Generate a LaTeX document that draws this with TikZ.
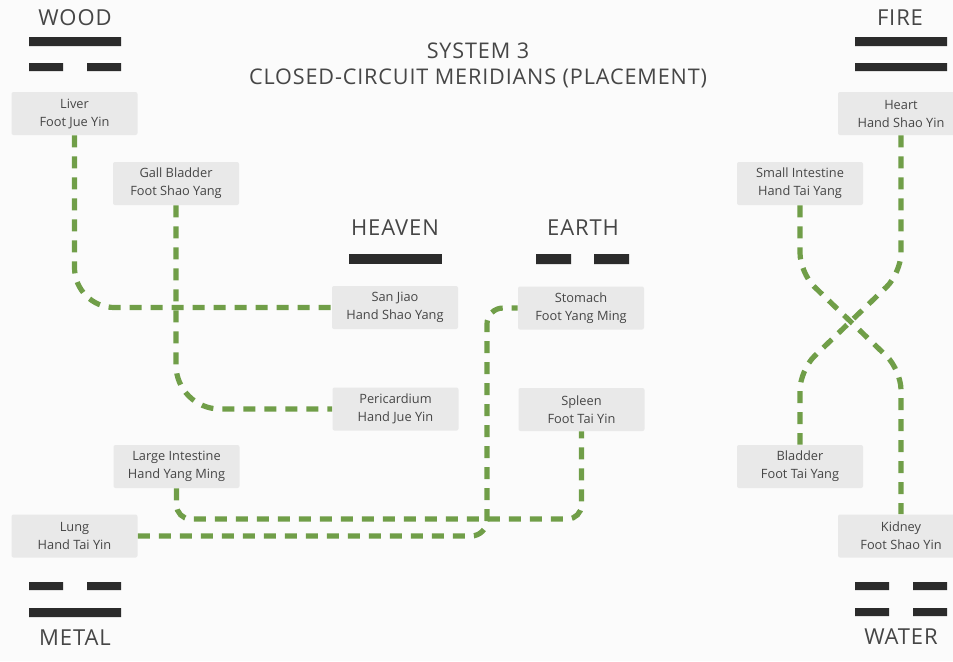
\documentclass[tikz,border=0pt]{standalone}
\usepackage{fontspec}
\setmainfont{Open Sans}
\definecolor{meridiangreen}{RGB}{112,158,72}
\definecolor{boxgray}{RGB}{233,233,233}
\definecolor{bardark}{RGB}{43,43,43}
\definecolor{labelgray}{RGB}{70,70,70}
\tikzset{
  organ/.style={fill=boxgray, rounded corners=1pt, minimum width=63pt, minimum height=21.5pt,
    inner sep=0pt, align=center, text=labelgray, font=\fontsize{6.4}{9}\selectfont},
  element/.style={text=labelgray, font=\fontsize{11}{13}\selectfont\addfontfeatures{LetterSpace=4}, inner sep=0pt},
  meridian/.style={draw=meridiangreen, line width=2.6pt, dash pattern=on 6pt off 4.5pt},
  bar/.style={fill=bardark}
}
\begin{document}
\begin{tikzpicture}[x=0.5pt,y=-0.5pt]
\useasboundingbox (0,0) rectangle (953,661);
\clip (0,0) rectangle (953,661);
\fill[white!98.5!black] (0,0) rectangle (953,661);

% title and the five elements
\node[element, align=center, font=\fontsize{10.8}{13}\selectfont\addfontfeatures{LetterSpace=4}] (title) at (478,65)
     {SYSTEM 3\\CLOSED-CIRCUIT MERIDIANS (PLACEMENT)};
\node[element] (wood)   at (75,18)   {WOOD};
\node[element] (fire)   at (900,18)  {FIRE};
\node[element] (metal)  at (75,638)  {METAL};
\node[element] (water)  at (901,637) {WATER};
\node[element] (heaven) at (395,228) {HEAVEN};
\node[element] (earth)  at (583,228) {EARTH};

% trigrams
\fill[bar] (29,37) rectangle (121,46)   (29,63) rectangle (63,71)   (87,63) rectangle (121,71);
\fill[bar] (855,37) rectangle (947,46)  (855,63) rectangle (947,71);
\fill[bar] (29,582) rectangle (63,590)  (87,582) rectangle (121,590)  (29,608) rectangle (121,617);
\fill[bar] (855,582) rectangle (889,590) (913,582) rectangle (947,590)
           (855,608) rectangle (889,616) (913,608) rectangle (947,616);
\fill[bar] (349,254) rectangle (442,264);
\fill[bar] (536,254) rectangle (571,264)  (594,254) rectangle (629,264);

% organs
\node[organ] (liver)   at (74.5,113.5) {Liver\\Foot Jue Yin};
\node[organ] (gall)    at (176,183.5)  {Gall Bladder\\Foot Shao Yang};
\node[organ] (sanjiao) at (395,307.5)  {San Jiao\\Hand Shao Yang};
\node[organ] (stomach) at (581,308)    {Stomach\\Foot Yang Ming};
\node[organ] (peri)    at (395.5,409)  {Pericardium\\Hand Jue Yin};
\node[organ] (spleen)  at (581.5,409.5) {Spleen\\Foot Tai Yin};
\node[organ] (li)      at (176.5,466.5) {Large Intestine\\Hand Yang Ming};
\node[organ] (lung)    at (74.5,536)   {Lung\\Hand Tai Yin};
\node[organ] (heart)   at (901,113.5)  {Heart\\Hand Shao Yin};
\node[organ] (small)   at (800,183.5)  {Small Intestine\\Hand Tai Yang};
\node[organ] (bladder) at (800,466.5)  {Bladder\\Foot Tai Yang};
\node[organ] (kidney)  at (901,536)    {Kidney\\Foot Shao Yin};

% bends
\coordinate (lowrun) at (176.5,519);
\coordinate (uprun)  at (487,308);
\coordinate (hx1) at (901,273);
\coordinate (hx2) at (800,370);
\coordinate (sx1) at (800,273);
\coordinate (sx2) at (901,370);

% meridians
\draw[meridian, rounded corners=20pt] (liver.south) |- (sanjiao.west);
\draw[meridian, rounded corners=22pt] (gall.south) |- (peri.west);
\draw[meridian, rounded corners=7pt] (li.south) -- (lowrun) -| (spleen.south);
\draw[meridian, rounded corners=8pt] (lung.east) -| (uprun) -- (stomach.west);
\draw[meridian, rounded corners=10pt] (heart.south) -- (hx1) -- (hx2) -- (bladder.north);
\draw[meridian, rounded corners=10pt] (small.south) -- (sx1) -- (sx2) -- (kidney.north);
\end{tikzpicture}
\end{document}
